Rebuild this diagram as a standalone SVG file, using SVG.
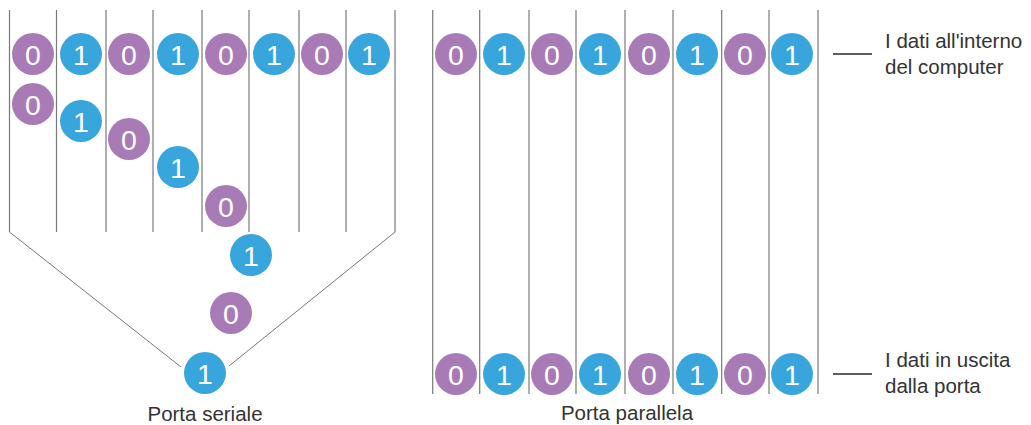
<svg xmlns="http://www.w3.org/2000/svg" width="1031" height="425" viewBox="0 0 1031 425">
<style>
.bg{fill:#ffffff}
.ln{stroke:#7a7a7a;stroke-width:1.2;fill:none}
.fn{stroke:#777;stroke-width:1;fill:none}
.lg{stroke:#2a2a2a;stroke-width:1.3;fill:none}
.p{fill:#A97BB6}
.b{fill:#38A6DD}
.d{font-family:"Liberation Sans",Arial,sans-serif;font-size:28.5px;fill:#ffffff;text-anchor:middle}
.t{font-family:"Liberation Sans",Arial,sans-serif;font-size:20.5px;fill:#333}
.c{text-anchor:middle}
</style>
<defs>
<g id="z"><circle r="21" class="p"/><text class="d" y="10.8">0</text></g>
<g id="o"><circle r="21" class="b"/><text class="d" y="10.8">1</text></g>
</defs>
<rect class="bg" width="1031" height="425"/>
<g id="connectors">
<path class="ln" d="M9.5 10V232M56.5 10V232M106 10V232M153 10V232M202 10V232M249 10V232M299 10V232M346 10V232M395 10V232"/>
<path class="fn" d="M9.5 232L181 367M395 232L229 366"/>
<path class="ln" d="M432.7 10V394M479.7 10V394M529 10V394M576 10V394M625 10V394M673 10V394M721.7 10V394M769 10V394M818 10V394"/>
<path class="lg" d="M833 54H872M833 374H872"/>
</g>
<g id="serial-top">
<use href="#z" x="33" y="54"/><use href="#o" x="81" y="54"/><use href="#z" x="129" y="54"/><use href="#o" x="178" y="54"/>
<use href="#z" x="226" y="54"/><use href="#o" x="274" y="54"/><use href="#z" x="322" y="54"/><use href="#o" x="369" y="54"/>
</g>
<g id="serial-stream">
<use href="#z" x="33" y="104"/><use href="#o" x="81" y="121"/><use href="#z" x="129" y="139"/><use href="#o" x="178" y="167"/>
<use href="#z" x="226" y="206"/><use href="#o" x="251" y="255"/><use href="#z" x="231" y="313"/><use href="#o" x="205" y="373"/>
</g>
<g id="parallel-top">
<use href="#z" x="456" y="54"/><use href="#o" x="504" y="54"/><use href="#z" x="552" y="54"/><use href="#o" x="600" y="54"/>
<use href="#z" x="649" y="54"/><use href="#o" x="697" y="54"/><use href="#z" x="745" y="54"/><use href="#o" x="792" y="54"/>
</g>
<g id="parallel-bottom">
<use href="#z" x="456" y="374"/><use href="#o" x="504" y="374"/><use href="#z" x="552" y="374"/><use href="#o" x="600" y="374"/>
<use href="#z" x="649" y="374"/><use href="#o" x="697" y="374"/><use href="#z" x="745" y="374"/><use href="#o" x="792" y="374"/>
</g>
<g id="labels">
<text class="t c" x="205" y="421">Porta seriale</text>
<text class="t c" x="627" y="420">Porta parallela</text>
<text class="t" x="885" y="48">I dati all'interno</text>
<text class="t" x="885" y="74">del computer</text>
<text class="t" x="885" y="367">I dati in uscita</text>
<text class="t" x="885" y="393">dalla porta</text>
</g>
</svg>
